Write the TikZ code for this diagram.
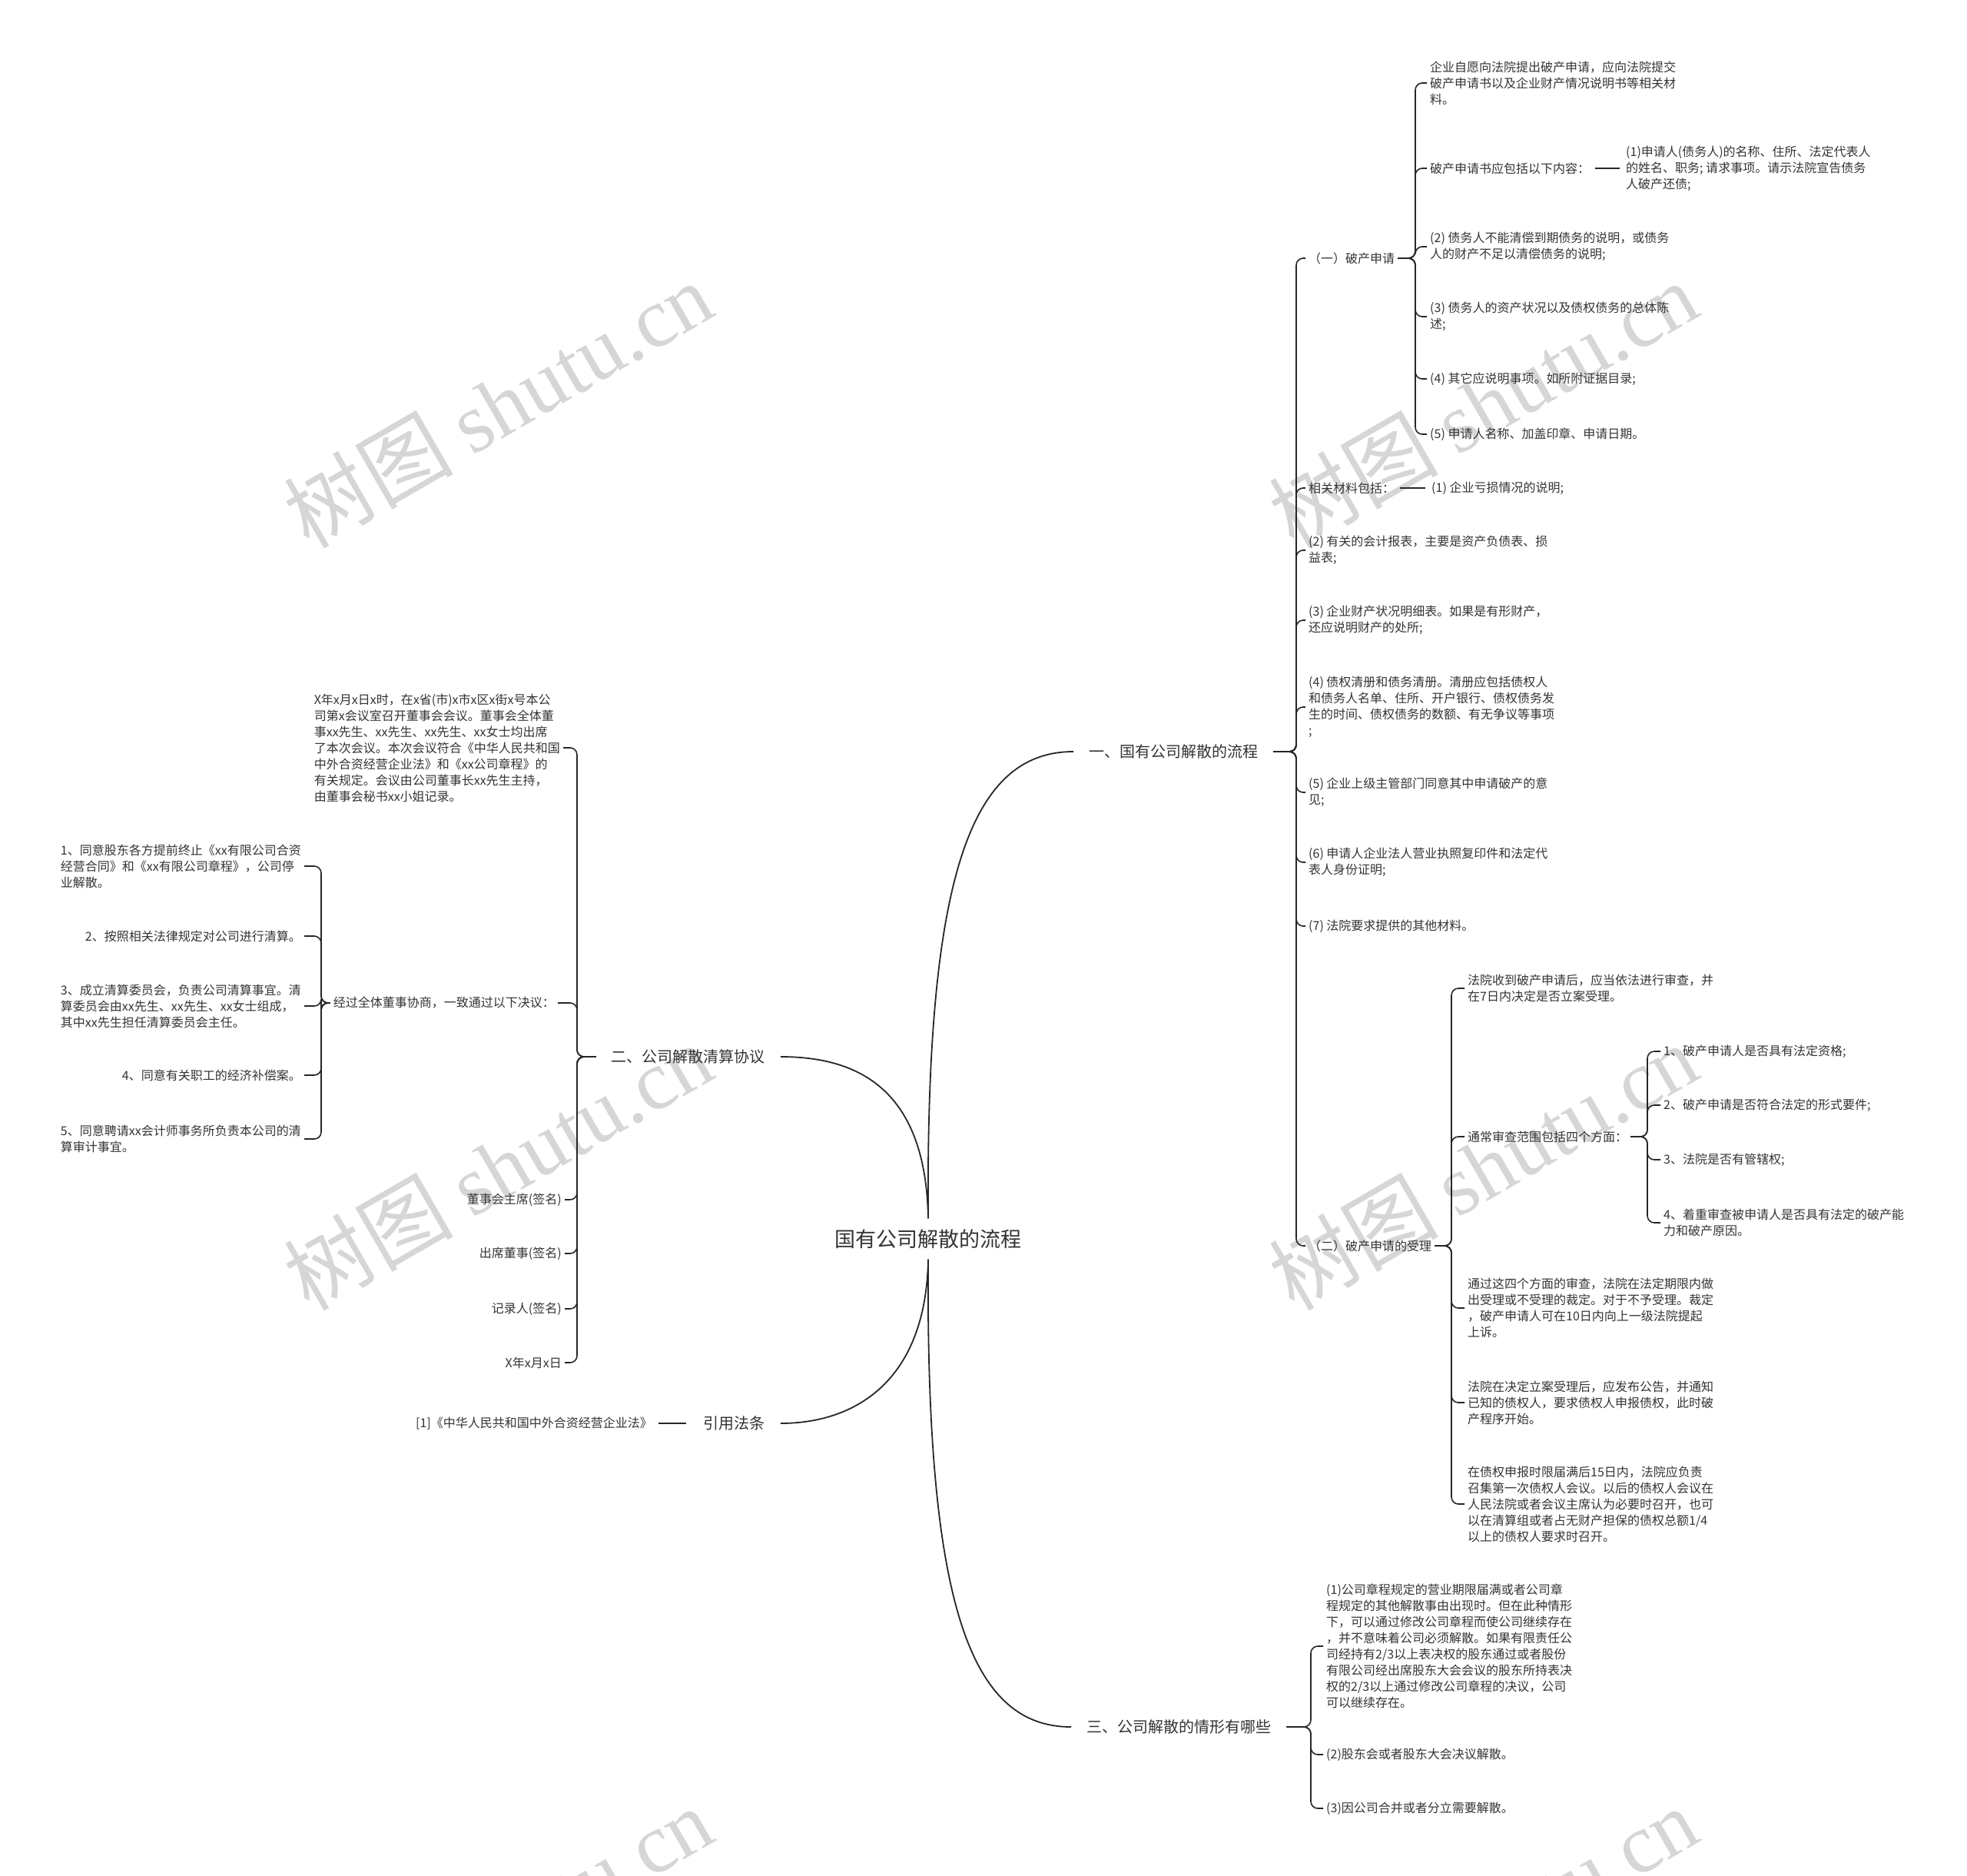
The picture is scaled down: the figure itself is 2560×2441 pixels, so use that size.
\documentclass[tikz,border=0pt]{standalone}
\usepackage{fontspec}
\setmainfont{Noto Sans CJK SC}
\newfontfamily\wmfont{Liberation Serif}

\begin{document}
\begin{tikzpicture}[
    x=1pt, y=-1pt,
    txt/.style={text=black!80},
    root/.style={txt, font=\fontsize{27}{32}\selectfont, inner xsep=8pt, inner ysep=14pt},
    topic/.style={txt, font=\fontsize{20}{24}\selectfont, inner xsep=20pt, inner ysep=4pt},
    leaf/.style={txt, font=\fontsize{16}{21}\selectfont, align=left, inner xsep=4pt, inner ysep=2pt},
    rleaf/.style={leaf, anchor=west},
    lleaf/.style={leaf, anchor=east},
    link/.style={draw=black!85, line width=1.6pt, rounded corners=9pt},
    stub/.style={draw=black!85, line width=1.6pt, shorten <=3pt, shorten >=4pt},
    curve/.style={draw=black!85, line width=1.8pt},
    wmark/.style={text=black!16, font=\fontsize{110}{110}\selectfont, rotate=30},
]
\useasboundingbox (0,0) rectangle (2560,2441);
% ----- watermarks
\begin{scope}
\clip (0,0) rectangle (2560,2441);
\node[wmark] (wm1) at (648,526) {树图 {\wmfont shutu.cn}};
\node[wmark] (wm2) at (1930,526) {树图 {\wmfont shutu.cn}};
\node[wmark] (wm3) at (648,1518) {树图 {\wmfont shutu.cn}};
\node[wmark] (wm4) at (1930,1518) {树图 {\wmfont shutu.cn}};
\node[wmark] (wm5) at (648,2511) {树图 {\wmfont shutu.cn}};
\node[wmark] (wm6) at (1930,2511) {树图 {\wmfont shutu.cn}};
\end{scope}

% ----- root and main topics
\node[root] (root) at (1208,1612) {国有公司解散的流程};
\node[topic, anchor=west] (b1) at (1397,978) {一、国有公司解散的流程};
\node[topic, anchor=east] (b2) at (1016,1375) {二、公司解散清算协议};
\node[topic, anchor=west] (b3) at (1394,2247) {三、公司解散的情形有哪些};
\node[topic, anchor=east] (b4) at (1016,1852) {引用法条};
\draw[curve] (root.north) .. controls (1205,1150) and (1260,978) .. (b1.west);
\draw[curve] (root.north) .. controls (1205,1420) and (1120,1375) .. (b2.east);
\draw[curve] (root.south) .. controls (1205,1800) and (1110,1852) .. (b4.east);
\draw[curve] (root.south) .. controls (1205,2080) and (1260,2247) .. (b3.west);

% ----- (一) branch: the flow
\coordinate (b1bar) at (1687,978);
\node[rleaf] (a1) at (1699,336) {（一）破产申请};
\node[rleaf] (a2) at (1699,635) {相关材料包括：};
\node[rleaf] (a3) at (1699,716) {(2) 有关的会计报表，主要是资产负债表、损\\益表;};
\node[rleaf] (a4) at (1699,807) {(3) 企业财产状况明细表。如果是有形财产，\\还应说明财产的处所;};
\node[rleaf] (a5) at (1699,920) {(4) 债权清册和债务清册。清册应包括债权人\\和债务人名单、住所、开户银行、债权债务发\\生的时间、债权债务的数额、有无争议等事项\\;};
\node[rleaf] (a6) at (1699,1031) {(5) 企业上级主管部门同意其中申请破产的意\\见;};
\node[rleaf] (a7) at (1699,1122) {(6) 申请人企业法人营业执照复印件和法定代\\表人身份证明;};
\node[rleaf] (a8) at (1699,1205) {(7) 法院要求提供的其他材料。};
\node[rleaf] (a9) at (1699,1621) {（二）破产申请的受理};
\foreach \c in {a1,a2,a3,a4,a5,a6,a7,a8,a9}
  \draw[link] (b1.east) -- (b1bar) |- (\c.west);

% ----- (一) 破产申请
\coordinate (a1bar) at (1842,336);
\node[rleaf] (c1) at (1857,108) {企业自愿向法院提出破产申请，应向法院提交\\破产申请书以及企业财产情况说明书等相关材\\料。};
\node[rleaf] (c2) at (1857,219) {破产申请书应包括以下内容：};
\node[rleaf] (c3) at (1857,321) {(2) 债务人不能清偿到期债务的说明，或债务\\人的财产不足以清偿债务的说明;};
\node[rleaf] (c4) at (1857,412) {(3) 债务人的资产状况以及债权债务的总体陈\\述;};
\node[rleaf] (c5) at (1857,493) {(4) 其它应说明事项。如所附证据目录;};
\node[rleaf] (c6) at (1857,565) {(5) 申请人名称、加盖印章、申请日期。};
\foreach \c in {c1,c2,c3,c4,c5,c6}
  \draw[link] (a1.east) -- (a1bar) |- (\c.west);
\node[rleaf] (d1) at (2112,219) {(1)申请人(债务人)的名称、住所、法定代表人\\的姓名、职务; 请求事项。请示法院宣告债务\\人破产还债;};
\draw[stub] (c2.east) -- (d1.west);
\node[rleaf] (e1) at (1859,635) {(1) 企业亏损情况的说明;};
\draw[stub] (a2.east) -- (e1.west);

% ----- (二) 破产申请的受理
\coordinate (a9bar) at (1889,1621);
\node[rleaf] (f1) at (1906,1286) {法院收到破产申请后，应当依法进行审查，并\\在7日内决定是否立案受理。};
\node[rleaf] (f2) at (1906,1479) {通常审查范围包括四个方面：};
\node[rleaf] (f3) at (1906,1702) {通过这四个方面的审查，法院在法定期限内做\\出受理或不受理的裁定。对于不予受理。裁定\\，破产申请人可在10日内向上一级法院提起\\上诉。};
\node[rleaf] (f4) at (1906,1825) {法院在决定立案受理后，应发布公告，并通知\\已知的债权人，要求债权人申报债权，此时破\\产程序开始。};
\node[rleaf] (f5) at (1906,1957) {在债权申报时限届满后15日内，法院应负责\\召集第一次债权人会议。以后的债权人会议在\\人民法院或者会议主席认为必要时召开，也可\\以在清算组或者占无财产担保的债权总额1/4\\以上的债权人要求时召开。};
\foreach \c in {f1,f2,f3,f4,f5}
  \draw[link] (a9.east) -- (a9bar) |- (\c.west);
\coordinate (f2bar) at (2144,1479);
\node[rleaf] (g1) at (2161,1368) {1、破产申请人是否具有法定资格;};
\node[rleaf] (g2) at (2161,1438) {2、破产申请是否符合法定的形式要件;};
\node[rleaf] (g3) at (2161,1509) {3、法院是否有管辖权;};
\node[rleaf] (g4) at (2161,1591) {4、着重审查被申请人是否具有法定的破产能\\力和破产原因。};
\foreach \c in {g1,g2,g3,g4}
  \draw[link] (f2.east) -- (f2bar) |- (\c.west);

% ----- 三 branch
\coordinate (b3bar) at (1706,2247);
\node[rleaf] (h1) at (1722,2142) {(1)公司章程规定的营业期限届满或者公司章\\程规定的其他解散事由出现时。但在此种情形\\下，可以通过修改公司章程而使公司继续存在\\，并不意味着公司必须解散。如果有限责任公\\司经持有2/3以上表决权的股东通过或者股份\\有限公司经出席股东大会会议的股东所持表决\\权的2/3以上通过修改公司章程的决议，公司\\可以继续存在。};
\node[rleaf] (h2) at (1722,2283) {(2)股东会或者股东大会决议解散。};
\node[rleaf] (h3) at (1722,2353) {(3)因公司合并或者分立需要解散。};
\foreach \c in {h1,h2,h3}
  \draw[link] (b3.east) -- (b3bar) |- (\c.west);

% ----- 二 branch: the agreement
\coordinate (b2bar) at (751,1375);
\node[lleaf] (i1) at (733,973) {X年x月x日x时，在x省(市)x市x区x街x号本公\\司第x会议室召开董事会会议。董事会全体董\\事xx先生、xx先生、xx先生、xx女士均出席\\了本次会议。本次会议符合《中华人民共和国\\中外合资经营企业法》和《xx公司章程》的\\有关规定。会议由公司董事长xx先生主持，\\由董事会秘书xx小姐记录。};
\node[lleaf] (i2) at (726,1305) {经过全体董事协商，一致通过以下决议：};
\node[lleaf] (i3) at (735,1561) {董事会主席(签名)};
\node[lleaf] (i4) at (735,1631) {出席董事(签名)};
\node[lleaf] (i5) at (735,1703) {记录人(签名)};
\node[lleaf] (i6) at (735,1773) {X年x月x日};
\foreach \c in {i1,i2,i3,i4,i5,i6}
  \draw[link] (b2.west) -- (b2bar) |- (\c.east);
\coordinate (i2bar) at (418,1305);
\node[lleaf] (j1) at (396,1127) {1、同意股东各方提前终止《xx有限公司合资\\经营合同》和《xx有限公司章程》，公司停\\业解散。};
\node[lleaf] (j2) at (396,1218) {2、按照相关法律规定对公司进行清算。};
\node[lleaf] (j3) at (396,1309) {3、成立清算委员会，负责公司清算事宜。清\\算委员会由xx先生、xx先生、xx女士组成，\\其中xx先生担任清算委员会主任。};
\node[lleaf] (j4) at (396,1399) {4、同意有关职工的经济补偿案。};
\node[lleaf] (j5) at (396,1482) {5、同意聘请xx会计师事务所负责本公司的清\\算审计事宜。};
\foreach \c in {j1,j2,j3,j4,j5}
  \draw[link] (i2.west) -- (i2bar) |- (\c.east);

% ----- 引用法条
\node[lleaf] (k1) at (853,1852) {[1]《中华人民共和国中外合资经营企业法》};
\draw[stub] (b4.west) -- (k1.east);
\end{tikzpicture}
\end{document}
